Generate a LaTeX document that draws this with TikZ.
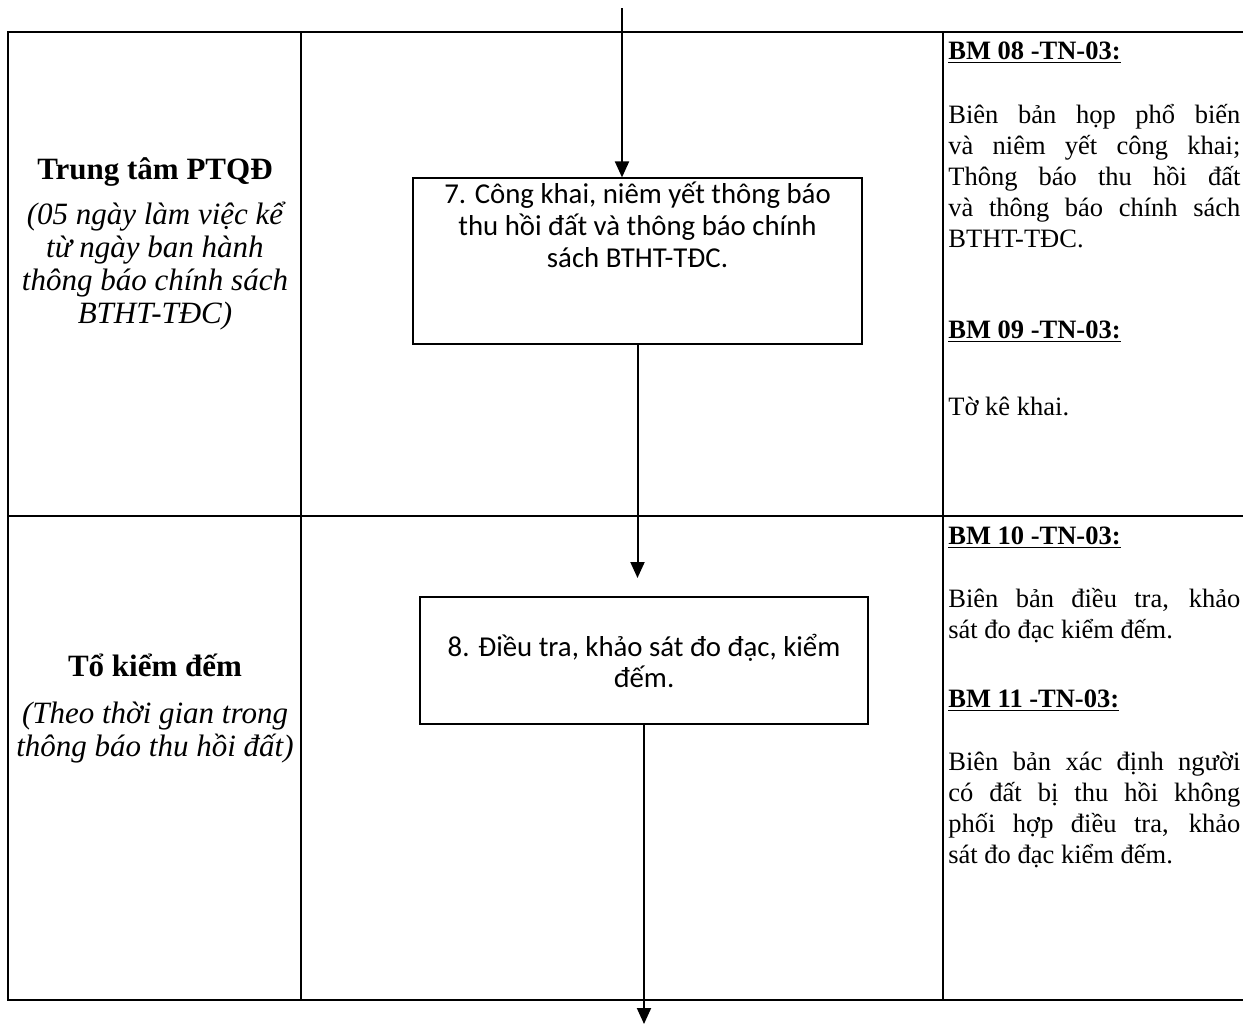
\documentclass[tikz,border=0pt]{standalone}
\usepackage{fontspec}
\setmainfont{Liberation Serif}
\newfontfamily\boxfont{Carlito}
\usepackage{tikz}
\usetikzlibrary{arrows.meta, positioning}

\newcommand{\jline}[1]{\makebox[146pt][s]{\spaceskip=0.25em plus 1fil\relax #1}\\}

\tikzset{
  lane/.style={line width=1.05pt},
  stepbox/.style={draw, line width=0.6pt, inner sep=0pt},
  steptext/.style={align=center, inner sep=0pt, font=\boxfont\fontsize{14.4}{15.9}\selectfont},
  flow/.style={line width=1pt, -{Triangle[width=7pt,length=8pt]}},
  actor/.style={align=center, inner sep=0pt, font=\bfseries\fontsize{15.5}{17.5}\selectfont},
  actortime/.style={align=center, inner sep=0pt, font=\itshape\fontsize{15.5}{16.5}\selectfont},
  formhead/.style={anchor=west, inner sep=0pt, font=\bfseries\fontsize{13.25}{15.5}\selectfont},
  formtext/.style={anchor=west, align=justify, text width=146pt, inner sep=0pt, font=\fontsize{13.25}{15.5}\selectfont},
}

\begin{document}
\begin{tikzpicture}[x=0.5pt, y=-0.5pt]
\useasboundingbox (0,0) rectangle (1243,1024);

% draw table
\draw[lane] (1243,32) -- (8,32) -- (8,1000) -- (1243,1000);
\draw[lane] (8,516) -- (1243,516);
\draw[lane] (301,32) -- (301,1000);
\draw[lane] (943,32) -- (943,1000);

% left column
\node[actor] (ptqd) at (155,172) {Trung tâm PTQĐ};
\node[actortime] (ptqdtime) at (155,266) {(05 ngày làm việc kể\\từ ngày ban hành\\thông báo chính sách\\BTHT-TĐC)};
\node[actor] (kiemdem) at (155,665) {Tổ kiểm đếm};
\node[actortime] (kiemdemtime) at (155,733) {(Theo thời gian trong\\thông báo thu hồi đất)};

% steps
\node[stepbox, minimum width=224.5pt, minimum height=83pt] (step7) at (637.5,261) {};
\node[steptext] (step7txt) at (637.5,225) {7. Công khai, niêm yết thông báo\\thu hồi đất và thông báo chính\\sách BTHT-TĐC.};
\node[stepbox, minimum width=224pt, minimum height=63.5pt] (step8) at (644,660.5) {};
\node[steptext] (step8txt) at (644,661) {8. Điều tra, khảo sát đo đạc, kiểm\\đếm.};

% connectors
\coordinate (entry) at (622,8);
\coordinate (gap) at (637.5,578);
\coordinate (exit) at (644,1024);
\draw[flow] (entry) -- (entry |- step7.north);
\draw[flow] (step7.south) -- (gap);
\draw[flow] (step8.south) -- (exit);

% forms
\node[formhead] (bm08) at (948,53) {\underline{BM 08 -TN-03:}};
\node[formtext] (bm08txt) at (948,176.5) {\jline{Biên bản họp phổ biến}\jline{và niêm yết công khai;}\jline{Thông báo thu hồi đất}\jline{và thông báo chính sách}BTHT-TĐC.};
\node[formhead] (bm09) at (948,332) {\underline{BM 09 -TN-03:}};
\node[formtext] (bm09txt) at (948,406) {Tờ kê khai.};
\node[formhead] (bm10) at (948,538) {\underline{BM 10 -TN-03:}};
\node[formtext] (bm10txt) at (948,615.5) {\jline{Biên bản điều tra, khảo}sát đo đạc kiểm đếm.};
\node[formhead] (bm11) at (948,701) {\underline{BM 11 -TN-03:}};
\node[formtext] (bm11txt) at (948,810) {\jline{Biên bản xác định người}\jline{có đất bị thu hồi không}\jline{phối hợp điều tra, khảo}sát đo đạc kiểm đếm.};

\end{tikzpicture}
\end{document}
